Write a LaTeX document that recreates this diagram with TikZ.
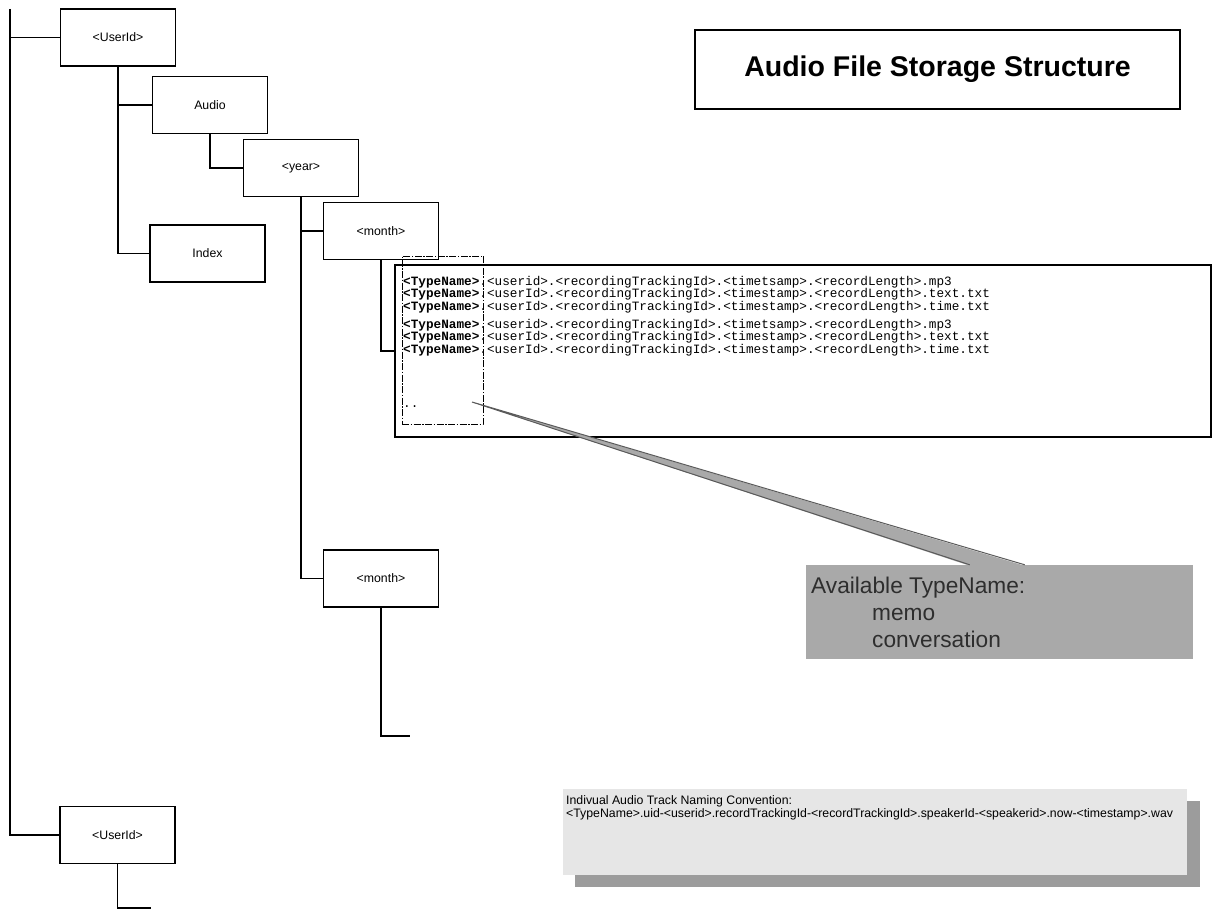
\documentclass[tikz,border=0pt]{standalone}
\usepackage{fontspec}
\setmainfont{Liberation Sans}
\newfontfamily\monofont{Liberation Mono}
\usetikzlibrary{calc}
\definecolor{calloutgray}{HTML}{A9A9A9}
\definecolor{calloutedge}{HTML}{5A5A5A}
\definecolor{calloutink}{HTML}{2E2E2E}
\definecolor{notefill}{HTML}{E6E6E6}
\definecolor{noteshadow}{HTML}{9C9C9C}
\begin{document}
\begin{tikzpicture}[x=1pt,y=-1pt,
  folder/.style={draw, line width=1.8pt, minimum width=115pt, minimum height=57pt,
    inner sep=0pt, font=\fontsize{12.3}{14}\selectfont},
  conn/.style={line width=1.8pt},
  frame/.style={draw, line width=1.8pt, inner sep=0pt},
  listing/.style={anchor=base west, inner sep=0pt, font=\monofont\fontsize{12.7}{12.5}\selectfont}]
\useasboundingbox (0,0) rectangle (1217,909);

% title
\node[frame, minimum width=485pt, minimum height=79pt,
  font=\fontsize{28.5}{32}\selectfont\bfseries] (title) at (937.5,69.5) {Audio File Storage Structure};

% directory boxes
\node[folder] (u1) at (118,37.5) {<UserId>};
\node[folder] (audio) at (210,105) {Audio};
\node[folder] (year) at (301,168) {<year>};
\node[folder] (idx) at (207.5,253.5) {Index};
\node[folder] (m1) at (381,231) {<month>};
\node[folder] (m2) at (381,578.5) {<month>};
\node[folder] (u2) at (117.5,835) {<UserId>};

% file list inside a month
\node[frame, minimum width=816pt, minimum height=172pt] (files) at (803,351) {};
\foreach \i/\y/\t in {
  1/285/{.<userid>.<recordingTrackingId>.<timetsamp>.<recordLength>.mp3},
  2/297.5/{.<userId>.<recordingTrackingId>.<timestamp>.<recordLength>.text.txt},
  3/310/{.<userId>.<recordingTrackingId>.<timestamp>.<recordLength>.time.txt},
  4/328/{.<userid>.<recordingTrackingId>.<timetsamp>.<recordLength>.mp3},
  5/340.5/{.<userId>.<recordingTrackingId>.<timestamp>.<recordLength>.text.txt},
  6/353/{.<userId>.<recordingTrackingId>.<timestamp>.<recordLength>.time.txt}}
  \node[listing] (ln\i) at (403,\y) {\textbf{<TypeName>}\t};
\node[listing] (lnmore) at (403,407) {..};
\node[draw, line width=0.9pt, dash pattern=on 7pt off 1.5pt on 1.5pt off 1.5pt,
  minimum width=81pt, minimum height=168pt, inner sep=0pt] (typecol) at (442.5,340) {};

% tree connectors
\coordinate (trunktop) at (10,9);
\draw[conn] (trunktop) |- (u2.west);
\draw[conn] (trunktop |- u1.west) -- (u1.west);
\draw[conn] (u1.south) |- (idx.west);
\draw[conn] (u1.south |- audio.west) -- (audio.west);
\draw[conn] (audio.south) |- (year.west);
\draw[conn] (year.south) |- (m2.west);
\draw[conn] (year.south |- m1.west) -- (m1.west);
\draw[conn] (m1.south) |- (files.west);
\coordinate (m2end) at (410,736);
\draw[conn] (m2.south) |- (m2end);
\coordinate (u2end) at (151,908);
\draw[conn] (u2.south) |- (u2end);

% callout listing the type names
\node[fill=calloutgray, minimum width=387pt, minimum height=94pt, inner sep=0pt] (types) at (999.5,612) {};
\coordinate (tip) at (472,402);
\fill[calloutgray] ($(types.north west)+(164,1)$) -- (tip) -- ($(types.north west)+(219,1)$) -- cycle;
\draw[calloutedge, line width=1pt] ($(types.north west)+(164,0)$) -- (tip) -- ($(types.north west)+(219,0)$);
\node[anchor=north west, inner sep=0pt, align=left, text=calloutink,
  font=\fontsize{22.7}{27}\selectfont] (typestext) at (811,577)
  {Available TypeName:\\\hspace*{61pt}memo\\\hspace*{61pt}conversation};

% naming convention note with drop shadow
\fill[noteshadow] (575,801) rectangle (1200,887);
\node[fill=notefill, minimum width=624pt, minimum height=86pt, inner sep=0pt] (note) at (875,832) {};
\node[anchor=north west, inner sep=0pt, align=left, font=\fontsize{12.3}{13}\selectfont] (notetext) at (566,795)
  {Indivual Audio Track Naming Convention:\\
   <TypeName>.uid-<userid>.recordTrackingId-<recordTrackingId>.speakerId-<speakerid>.now-<timestamp>.wav};
\end{tikzpicture}
\end{document}
